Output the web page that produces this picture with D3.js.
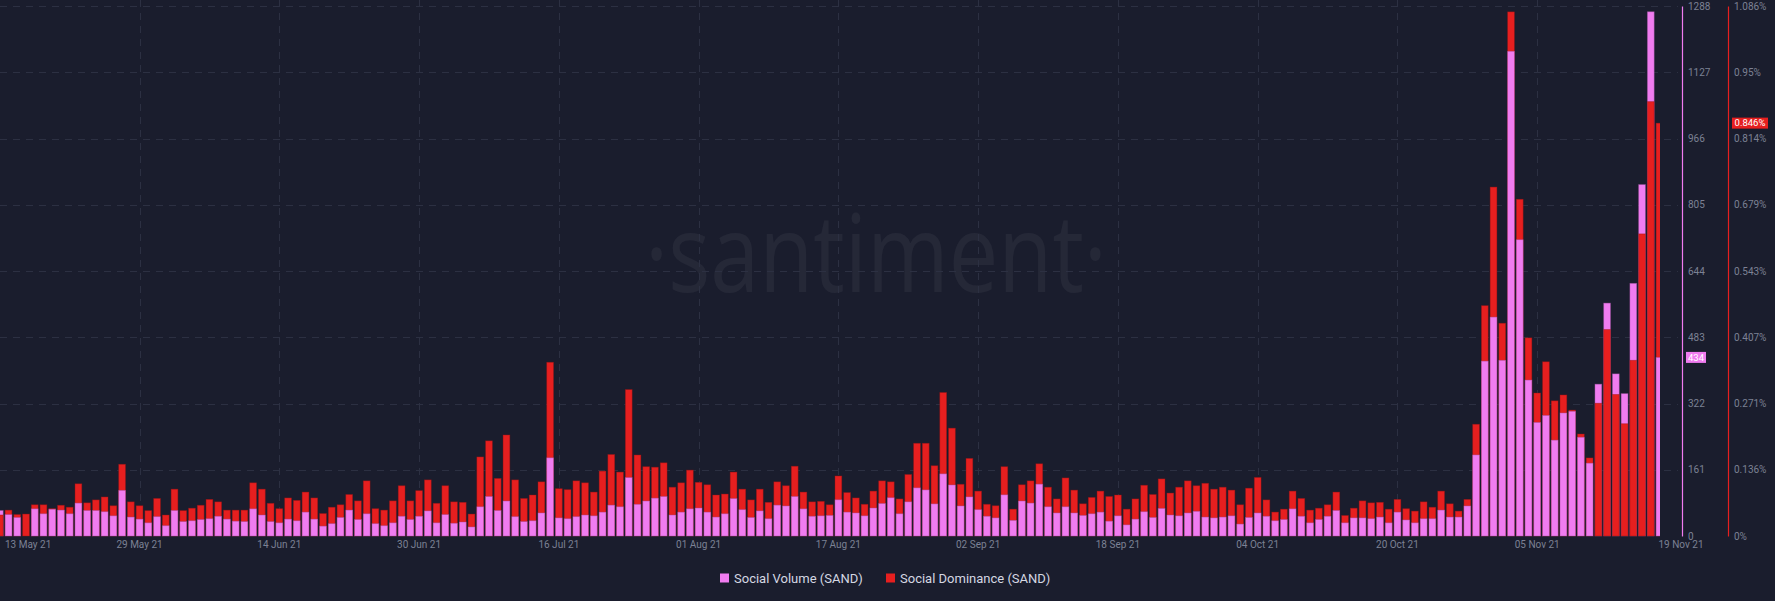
<!DOCTYPE html>
<html>
<head>
<meta charset="utf-8">
<script src="https://cdn.jsdelivr.net/npm/d3@7/dist/d3.min.js"></script>
<style>
  html, body { margin: 0; padding: 0; background: #1a1d2d; }
  svg { display: block; }
</style>
</head>
<body>
<svg id="chart" width="1775" height="601"></svg>
<script>
// ---------------- DATA ----------------
const startDay = "2021-05-13";
const endDay = "2021-11-19";

const socialVolume = [
  62, 52, 45, 0, 66, 54, 65, 63, 54, 80,
  62, 62, 59, 49, 111, 46, 41, 32, 47, 25,
  62, 35, 37, 40, 42, 48, 41, 36, 35, 66,
  51, 35, 32, 41, 37, 58, 41, 24, 30, 45,
  63, 40, 54, 30, 25, 32, 48, 40, 48, 61,
  32, 52, 31, 34, 22, 71, 96, 62, 85, 47,
  35, 37, 56, 190, 44, 42, 47, 51, 49, 58,
  75, 71, 142, 77, 85, 92, 96, 51, 58, 66,
  68, 58, 46, 54, 91, 64, 45, 61, 42, 75,
  73, 96, 66, 48, 49, 50, 88, 58, 56, 49,
  68, 79, 93, 54, 83, 117, 112, 78, 151, 124,
  73, 95, 64, 48, 44, 100, 38, 85, 80, 126,
  71, 56, 71, 56, 50, 54, 58, 36, 49, 27,
  41, 59, 45, 67, 51, 49, 56, 60, 46, 44,
  46, 49, 29, 45, 56, 48, 37, 40, 66, 48,
  32, 40, 48, 62, 32, 44, 44, 42, 46, 32,
  58, 39, 32, 42, 42, 63, 46, 46, 73, 197,
  425, 532, 427, 1178, 720, 379, 276, 293, 233, 299,
  303, 240, 177, 369, 566, 394, 346, 614, 854, 1274,
  434
];

// Social dominance in percent
const socialDominance = [
  0.043, 0.053, 0.044, 0.045, 0.064, 0.064, 0.056, 0.063, 0.059, 0.107,
  0.068, 0.074, 0.080, 0.062, 0.147, 0.070, 0.062, 0.052, 0.077, 0.043,
  0.096, 0.052, 0.057, 0.063, 0.075, 0.070, 0.053, 0.053, 0.053, 0.109,
  0.096, 0.067, 0.056, 0.078, 0.073, 0.090, 0.078, 0.046, 0.059, 0.064,
  0.085, 0.072, 0.113, 0.056, 0.053, 0.072, 0.103, 0.072, 0.093, 0.115,
  0.067, 0.103, 0.070, 0.069, 0.045, 0.162, 0.195, 0.118, 0.207, 0.115,
  0.077, 0.084, 0.111, 0.356, 0.097, 0.095, 0.113, 0.109, 0.090, 0.133,
  0.167, 0.131, 0.300, 0.166, 0.142, 0.141, 0.150, 0.100, 0.109, 0.135,
  0.110, 0.105, 0.084, 0.086, 0.131, 0.096, 0.074, 0.096, 0.069, 0.111,
  0.103, 0.143, 0.090, 0.070, 0.071, 0.064, 0.123, 0.089, 0.078, 0.065,
  0.092, 0.113, 0.111, 0.076, 0.126, 0.190, 0.190, 0.144, 0.294, 0.221,
  0.106, 0.159, 0.092, 0.065, 0.062, 0.142, 0.055, 0.105, 0.113, 0.148,
  0.100, 0.076, 0.119, 0.094, 0.066, 0.079, 0.092, 0.081, 0.084, 0.055,
  0.076, 0.104, 0.085, 0.117, 0.088, 0.100, 0.113, 0.103, 0.108, 0.096,
  0.100, 0.094, 0.064, 0.098, 0.120, 0.074, 0.049, 0.055, 0.092, 0.077,
  0.053, 0.057, 0.064, 0.090, 0.042, 0.057, 0.072, 0.068, 0.069, 0.055,
  0.075, 0.056, 0.051, 0.070, 0.059, 0.092, 0.066, 0.051, 0.075, 0.229,
  0.472, 0.715, 0.436, 1.074, 0.690, 0.406, 0.293, 0.357, 0.277, 0.289,
  0.258, 0.209, 0.160, 0.272, 0.423, 0.290, 0.230, 0.360, 0.619, 0.890,
  0.846
];

const xTickLabels = ["13 May 21", "29 May 21", "14 Jun 21", "30 Jun 21", "16 Jul 21",
  "01 Aug 21", "17 Aug 21", "02 Sep 21", "18 Sep 21", "04 Oct 21", "20 Oct 21",
  "05 Nov 21", "19 Nov 21"];
const volumeTicks = [0, 161, 322, 483, 644, 805, 966, 1127, 1288];
const dominanceTicks = [0, 0.136, 0.271, 0.407, 0.543, 0.679, 0.814, 0.95, 1.086];

const seriesNames = ["Social Volume (SAND)", "Social Dominance (SAND)"];
const colors = { volume: "#f07cf0", dominance: "#e61f1f" };

// ---------------- SETUP ----------------
const svg = d3.select("#chart");
const W = 1775, H = 601;
const bg = "#1a1d2d";
const gridColor = "#2c3042";
const textColor = "#7c8194";
const font = "Roboto, 'Liberation Sans', Arial, sans-serif";

svg.append("rect").attr("width", W).attr("height", H).attr("fill", bg);

const parseDay = d3.utcParse("%Y-%m-%d");
const parseLabel = d3.utcParse("%d %b %y");
const days = d3.utcDay.range(parseDay(startDay), d3.utcDay.offset(parseDay(endDay), 1));

const plotTop = 6, plotBottom = 536, plotRight = 1660;
const x = d3.scaleUtc().domain([parseDay(startDay), parseDay(endDay)]).range([-0.2, 1659.5]);
const yV = d3.scaleLinear().domain([0, d3.max(volumeTicks)]).range([plotBottom, plotTop]);
const yD = d3.scaleLinear().domain([0, d3.max(dominanceTicks)]).range([plotBottom, plotTop]);

// clip
svg.append("defs").append("clipPath").attr("id", "plotClip")
  .append("rect").attr("x", 0).attr("y", 0).attr("width", plotRight).attr("height", plotBottom + 1);

// ---------------- WATERMARK ----------------
svg.append("text")
  .attr("x", 645).attr("y", 292)
  .attr("textLength", 462).attr("lengthAdjust", "spacingAndGlyphs")
  .attr("font-family", "'Open Sans', 'Noto Sans', sans-serif")
  .attr("font-weight", 400)
  .attr("font-size", 108)
  .attr("fill", "#ffffff").attr("fill-opacity", 0.05)
  .text("\u00B7santiment\u00B7");

// ---------------- GRID ----------------
const grid = svg.append("g");
grid.selectAll("line.h").data(volumeTicks.slice(1)).join("line")
  .attr("x1", 0).attr("x2", 1678)
  .attr("y1", d => Math.round(yV(d)) + 0.5).attr("y2", d => Math.round(yV(d)) + 0.5)
  .attr("stroke", gridColor).attr("stroke-width", 1).attr("stroke-dasharray", "7,6");

const tickDates = xTickLabels.map(parseLabel);
grid.selectAll("line.v").data(tickDates.slice(1, -1)).join("line")
  .attr("x1", d => Math.round(x(d)) + 0.5).attr("x2", d => Math.round(x(d)) + 0.5)
  .attr("y1", 0).attr("y2", plotBottom)
  .attr("stroke", gridColor).attr("stroke-width", 1).attr("stroke-dasharray", "7,6");

// ---------------- BARS ----------------
const barW = 6.8;
const barsG = svg.append("g").attr("clip-path", "url(#plotClip)");
const rows = days.map((d, i) => ({ date: d, v: socialVolume[i], dm: socialDominance[i] }));
rows.forEach(r => {
  const bars = [
    { key: "volume", y: yV(r.v), color: colors.volume },
    { key: "dominance", y: yD(r.dm), color: colors.dominance }
  ].sort((a, b) => a.y - b.y); // taller first (smaller y), shorter drawn on top
  bars.forEach(b => {
    const h = plotBottom - b.y;
    if (h <= 0) return;
    barsG.append("rect")
      .attr("x", x(r.date) - barW / 2)
      .attr("y", b.y)
      .attr("width", barW)
      .attr("height", h)
      .attr("fill", b.color)
      .attr("stroke", d3.color(b.color).darker(1.2))
      .attr("stroke-opacity", 0.5)
      .attr("stroke-width", 0.8);
  });
});

// ---------------- AXES ----------------
const axisV = d3.axisRight(yV).tickValues(volumeTicks).tickSize(0).tickPadding(6)
  .tickFormat(d => String(d));
const gV = svg.append("g").attr("transform", "translate(1682,0)").call(axisV);
gV.select(".domain").attr("stroke", colors.volume).attr("stroke-width", 1.2);
gV.selectAll("text").attr("fill", textColor).attr("font-size", 10).attr("font-family", font);

const axisD = d3.axisRight(yD).tickValues(dominanceTicks).tickSize(0).tickPadding(6)
  .tickFormat(d => String(d) + "%");
const gD = svg.append("g").attr("transform", "translate(1728,0)").call(axisD);
gD.select(".domain").attr("stroke", colors.dominance).attr("stroke-width", 1.2);
gD.selectAll("text").attr("fill", textColor).attr("font-size", 10).attr("font-family", font);

// last-value badges
const lastV = socialVolume[socialVolume.length - 1];
const lastD = socialDominance[socialDominance.length - 1];
const bV = svg.append("g").attr("transform", `translate(1686,${yV(lastV)})`);
bV.append("rect").attr("x", 0).attr("y", -5.5).attr("width", 20).attr("height", 11).attr("fill", colors.volume);
bV.append("text").attr("x", 10).attr("y", 0).attr("dy", "0.35em").attr("text-anchor", "middle")
  .attr("fill", "#ffffff").attr("font-size", 9.5).attr("font-family", font).text(lastV);
const bD = svg.append("g").attr("transform", `translate(1732,${yD(lastD)})`);
bD.append("rect").attr("x", 0).attr("y", -5.5).attr("width", 36).attr("height", 11).attr("fill", colors.dominance);
bD.append("text").attr("x", 18).attr("y", 0).attr("dy", "0.35em").attr("text-anchor", "middle")
  .attr("fill", "#ffffff").attr("font-size", 9.5).attr("font-family", font).text(lastD + "%");

// x labels
svg.append("g").selectAll("text").data(xTickLabels).join("text")
  .attr("x", (d, i) => i === 0 ? 5 : (i === xTickLabels.length - 1 ? x(tickDates[i]) - 1 : x(tickDates[i])))
  .attr("y", 548)
  .attr("text-anchor", (d, i) => (i === 0 || i === xTickLabels.length - 1) ? "start" : "middle")
  .attr("fill", textColor).attr("font-size", 10).attr("font-family", font)
  .text(d => d);

// ---------------- LEGEND ----------------
const legend = svg.append("g");
const legendItems = [
  { name: seriesNames[0], color: colors.volume, x: 720 },
  { name: seriesNames[1], color: colors.dominance, x: 886 }
];
legendItems.forEach(it => {
  legend.append("rect").attr("x", it.x).attr("y", 573.5).attr("width", 9).attr("height", 9).attr("fill", it.color);
  legend.append("text").attr("x", it.x + 14).attr("y", 582.5)
    .attr("fill", "#d4d7e2").attr("font-size", 13).attr("font-family", font).text(it.name);
});
</script>
</body>
</html>
